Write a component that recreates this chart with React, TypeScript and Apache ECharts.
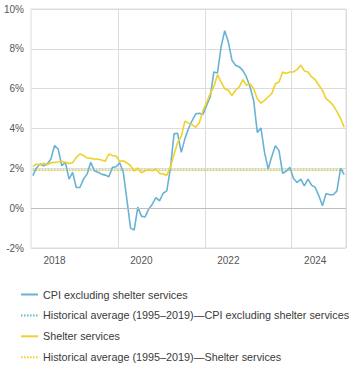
import React, { useEffect, useRef } from "react";
import * as echarts from "echarts";

// Monthly, Jan 2018 – Mar 2025
const startYear = 2018;
const monthCount = 87;
const yearTickLabels = ["2018", "2020", "2022", "2024"];

const cpiExShelter = [
  1.63, 2.02, 2.22, 2.13, 2.22, 2.47, 3.14, 2.97, 2.13, 2.3, 1.46, 1.8,
  1.04, 1.04, 1.46, 1.71, 2.3, 1.88, 1.8, 1.71, 1.66, 1.58, 2.05, 2.08,
  2.28, 1.8, 0.4, -1.0, -1.1, 0.05, -0.4, -0.44, -0.05, 0.2, 0.53, 0.37,
  0.75, 0.87, 2.0, 3.73, 3.76, 2.8, 3.48, 4.0, 4.4, 4.74, 4.76, 4.7,
  5.16, 5.58, 6.84, 6.79, 8.1, 8.91, 8.35, 7.43, 7.18, 7.09, 6.92, 6.59,
  6.08, 5.41, 3.8, 4.03, 2.8, 1.97, 2.59, 3.14, 2.89, 1.75, 1.85, 2.05,
  1.49, 1.29, 1.46, 1.12, 1.46, 1.16, 1.04, 0.62, 0.12, 0.74, 0.67, 0.67,
  0.87, 2.0, 1.68,
];

const shelterServices = [
  2.08, 2.22, 2.17, 2.25, 2.18, 2.28, 2.3, 2.32, 2.35, 2.3, 2.25, 2.28,
  2.55, 2.72, 2.64, 2.52, 2.5, 2.47, 2.46, 2.42, 2.35, 2.72, 2.64, 2.62,
  2.35, 2.38, 2.27, 2.13, 1.86, 2.02, 1.77, 1.88, 1.92, 1.88, 1.97, 1.75,
  1.71, 1.66, 2.05, 2.7, 3.3, 3.6, 4.37, 4.27, 4.2, 4.06, 4.3, 4.9,
  5.3, 5.75, 6.1, 6.7, 6.33, 6.0, 5.92, 5.66, 5.92, 6.08, 6.45, 6.17,
  6.25, 6.0, 5.49, 5.27, 5.41, 5.58, 5.75, 6.25, 6.33, 6.84, 6.76, 6.84,
  6.84, 6.96, 7.18, 6.89, 6.84, 6.59, 6.45, 6.17, 5.9, 5.5, 5.35, 5.15,
  4.85, 4.5, 4.06,
];

const histAvgCpiExShelter = 1.9;
const histAvgShelter = 1.9;

const seriesNames = [
  "CPI excluding shelter services",
  "Historical average (1995–2019)—CPI excluding shelter services",
  "Shelter services",
  "Historical average (1995–2019)—Shelter services",
];

const BLUE = "#68b3d5";
const YELLOW = "#f0d12c";

export default function App() {
  const ref = useRef<HTMLDivElement>(null);

  useEffect(() => {
    document.body.style.margin = "0";
    if (!ref.current) return;
    const chart = echarts.init(ref.current, null, { renderer: "svg" });

    const categories: string[] = [];
    for (let i = 0; i < monthCount; i++) {
      const y = startYear + Math.floor(i / 12);
      const m = (i % 12) + 1;
      categories.push(`${y}-${m < 10 ? "0" + m : m}`);
    }

    const font = "Liberation Sans, Arial, sans-serif";

    chart.setOption({
      animation: false,
      textStyle: { fontFamily: font },
      grid: {
        left: 31,
        right: 4,
        top: 9,
        bottom: 117,
        show: true,
        borderColor: "#dcdcdc",
        borderWidth: 1,
      },
      legend: {
        orient: "vertical",
        left: 20,
        top: 289,
        padding: 0,
        height: 120,
        itemWidth: 17,
        itemHeight: 10,
        itemGap: 9.9,
        itemStyle: { opacity: 0 },
        textStyle: { fontSize: 10.8, color: "#3a3a3a", fontFamily: font },
        data: seriesNames,
      },
      xAxis: {
        type: "category",
        data: categories,
        boundaryGap: true,
        axisLine: { show: false },
        axisTick: { show: false },
        axisLabel: {
          interval: (index: number) => index % 24 === 6,
          formatter: (v: string) => {
            const y = v.slice(0, 4);
            return yearTickLabels.indexOf(y) >= 0 ? y : "";
          },
          color: "#555",
          fontSize: 10,
          margin: 7,
          fontFamily: font,
        },
        splitLine: {
          show: true,
          interval: (index: number) => index > 0 && index % 24 === 0,
          lineStyle: { color: "#dcdcdc", width: 1 },
        },
      },
      yAxis: {
        type: "value",
        min: -2,
        max: 10,
        interval: 2,
        axisLine: { show: false },
        axisTick: { show: false },
        axisLabel: {
          formatter: "{value}%",
          color: "#555",
          fontSize: 10,
          margin: 7,
          fontFamily: font,
        },
        splitLine: { lineStyle: { color: "#dcdcdc", width: 1 } },
      },
      series: [
        {
          name: seriesNames[0],
          type: "line",
          data: cpiExShelter,
          showSymbol: false,
          symbol: "none",
          color: BLUE,
          lineStyle: { color: BLUE, width: 1.6 },
          markLine: {
            silent: true,
            symbol: "none",
            label: { show: false },
            lineStyle: { color: "#bdbdbd", width: 1, type: "solid" },
            data: [{ yAxis: 0 }],
          },
          z: 3,
        },
        {
          name: seriesNames[1],
          type: "line",
          data: categories.map(() => histAvgCpiExShelter),
          showSymbol: false,
          symbol: "none",
          color: BLUE,
          lineStyle: { color: BLUE, width: 1.5, type: [1.5, 1.5] },
          z: 2,
        },
        {
          name: seriesNames[2],
          type: "line",
          data: shelterServices,
          showSymbol: false,
          symbol: "none",
          color: YELLOW,
          lineStyle: { color: YELLOW, width: 1.6 },
          z: 4,
        },
        {
          name: seriesNames[3],
          type: "line",
          data: categories.map(() => histAvgShelter),
          showSymbol: false,
          symbol: "none",
          color: YELLOW,
          lineStyle: { color: YELLOW, width: 1.5, type: [1.5, 1.5] },
          z: 2,
        },
      ],
    });

    return () => chart.dispose();
  }, []);

  return <div ref={ref} style={{ width: 350, height: 365 }} />;
}
